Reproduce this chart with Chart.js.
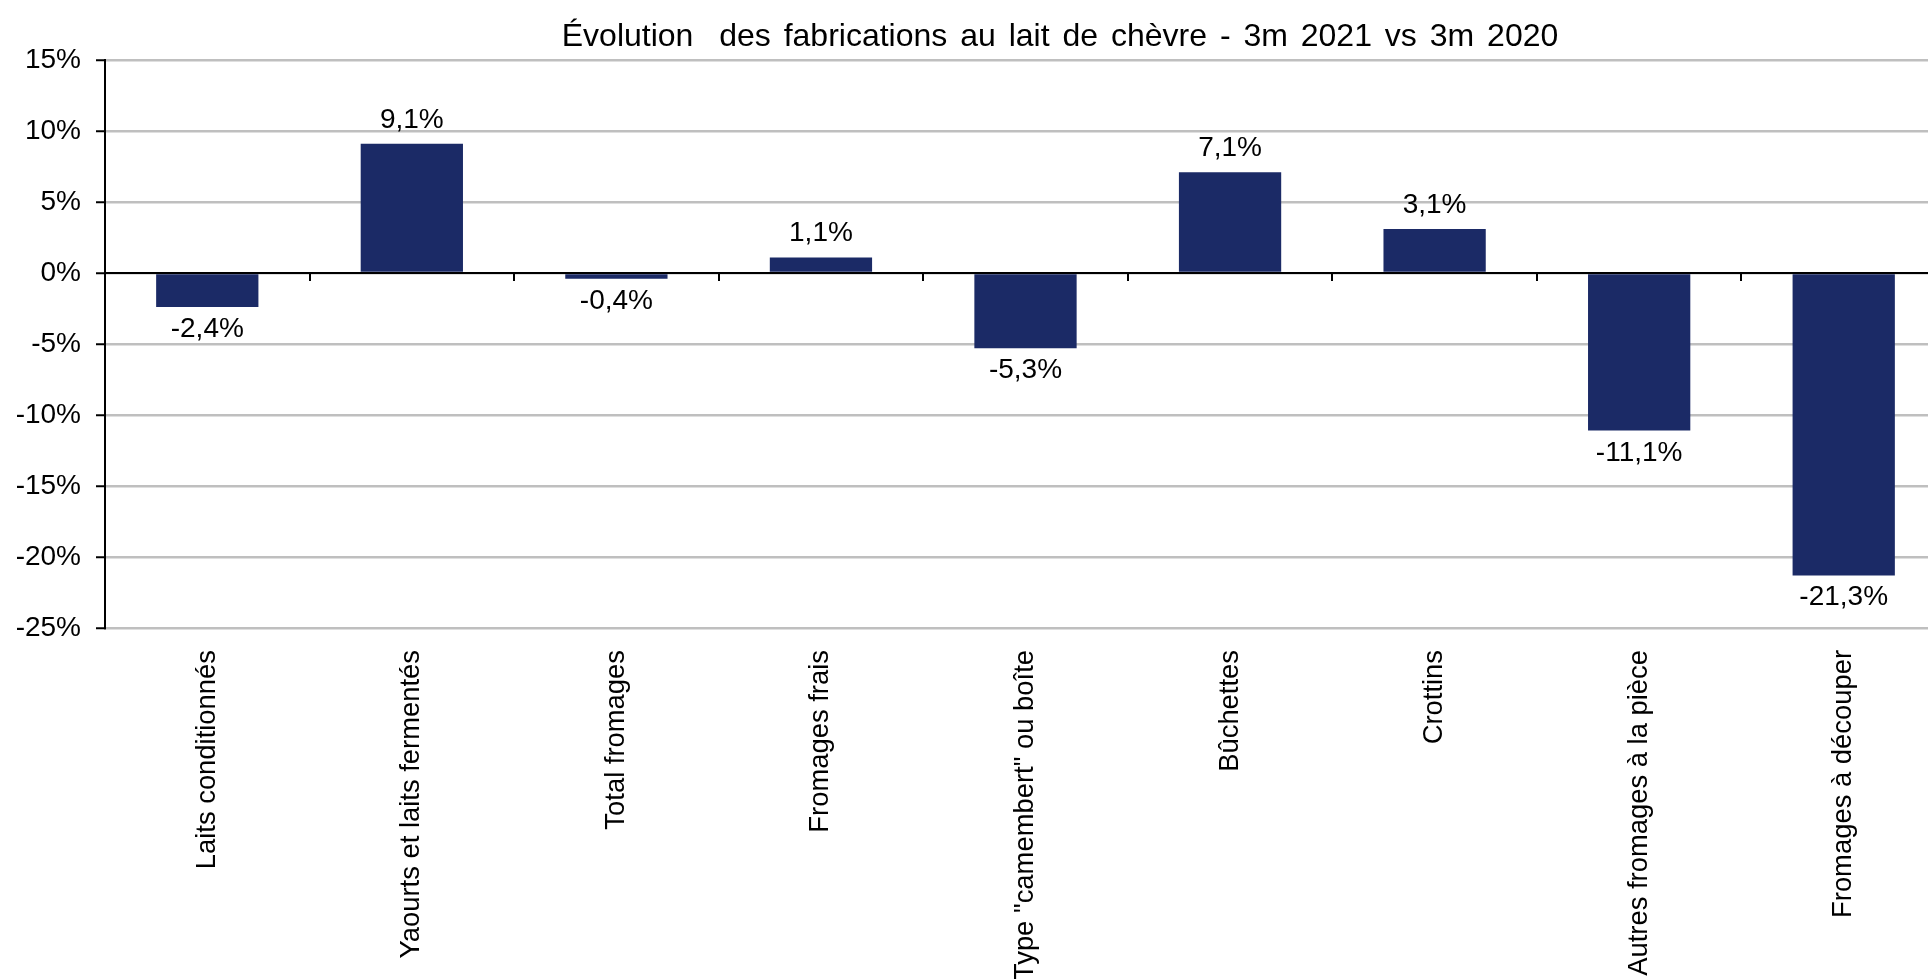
<!DOCTYPE html>
<html>
<head>
<meta charset="utf-8">
<script src="https://cdn.jsdelivr.net/npm/chart.js@4"></script>
<style>
html,body{margin:0;padding:0;background:#fff;overflow:hidden;}
#wrap{position:relative;width:2120px;height:979px;}
</style>
</head>
<body>
<div id="wrap"><canvas id="c" width="2120" height="979"></canvas></div>
<script>
const categories = ["Laits conditionnés","Yaourts et laits fermentés","Total fromages","Fromages frais","Type \"camembert\" ou boîte","Bûchettes","Crottins","Autres fromages à la pièce","Fromages à découper"];
const values = [-2.4, 9.1, -0.4, 1.1, -5.3, 7.1, 3.1, -11.1, -21.3];
const titleText = "Évolution  des fabrications au lait de chèvre - 3m 2021 vs 3m 2020";
const yMin = -25, yMax = 15, yStep = 5;

const FONT = "'Liberation Sans', Arial, Helvetica, sans-serif";
const fmt = v => v.toFixed(1).replace('.', ',') + '%';

const extras = {
  id: 'extras',
  afterLayout(chart) {
    const tb = chart.titleBlock;
    if (tb) {
      tb.left = 0; tb.right = chart.width;
      if (!tb._wrapped) {
        const orig = tb.draw;
        tb.draw = function () {
          const c = this.ctx; c.save();
          c.wordSpacing = '4px';
          orig.apply(this, arguments);
          c.restore();
        };
        tb._wrapped = true;
      }
    }
  },
  afterDatasetsDraw(chart) {
    const ctx = chart.ctx, x = chart.scales.x, y = chart.scales.y;
    const y0 = Math.round(y.getPixelForValue(0));
    ctx.save();
    ctx.strokeStyle = '#000'; ctx.lineWidth = 2;
    ctx.beginPath(); ctx.moveTo(chart.chartArea.left, y0); ctx.lineTo(chart.chartArea.right, y0); ctx.stroke();
    for (let i = 1; i < categories.length; i++) {
      const bx = Math.round((x.getPixelForValue(i - 1) + x.getPixelForValue(i)) / 2);
      ctx.beginPath(); ctx.moveTo(bx, y0); ctx.lineTo(bx, y0 + 8); ctx.stroke();
    }
    ctx.fillStyle = '#000'; ctx.font = "28px " + FONT; ctx.textAlign = 'center'; ctx.textBaseline = 'alphabetic';
    chart.getDatasetMeta(0).data.forEach((bar, i) => {
      const v = values[i];
      ctx.fillText(fmt(v), bar.x, v >= 0 ? bar.y - 16 : bar.y + 30);
    });
    ctx.restore();
  }
};

new Chart(document.getElementById('c'), {
  type: 'bar',
  data: {
    labels: categories,
    datasets: [{ data: values, backgroundColor: '#1b2a66', borderWidth: 0, barPercentage: 0.5, categoryPercentage: 1.0 }]
  },
  options: {
    responsive: false,
    animation: false,
    events: [],
    layout: { padding: { left: 0, right: 174, top: 0, bottom: 0 } },
    plugins: {
      legend: { display: false },
      tooltip: { enabled: false },
      title: {
        display: true, text: titleText, color: '#000',
        font: { family: FONT, size: 32, weight: 'normal', lineHeight: 1.2 },
        padding: { top: 18, bottom: 3.6 }
      }
    },
    scales: {
      x: {
        grid: { display: false },
        border: { display: false },
        ticks: { color: '#000', font: { family: FONT, size: 27.4 }, minRotation: 90, maxRotation: 90, autoSkip: false, padding: 14 },
        afterFit(s) { s.height = 351; }
      },
      y: {
        min: yMin, max: yMax,
        grid: { color: '#bfbfbf', lineWidth: 2.5, tickColor: '#000', tickLength: 9, tickWidth: 2 },
        border: { display: true, color: '#000', width: 2 },
        ticks: { stepSize: yStep, color: '#000', font: { family: FONT, size: 28 }, padding: 15, callback: v => v + '%' },
        afterFit(s) { s.width = 105; }
      }
    }
  },
  plugins: [extras]
});
</script>
</body>
</html>
